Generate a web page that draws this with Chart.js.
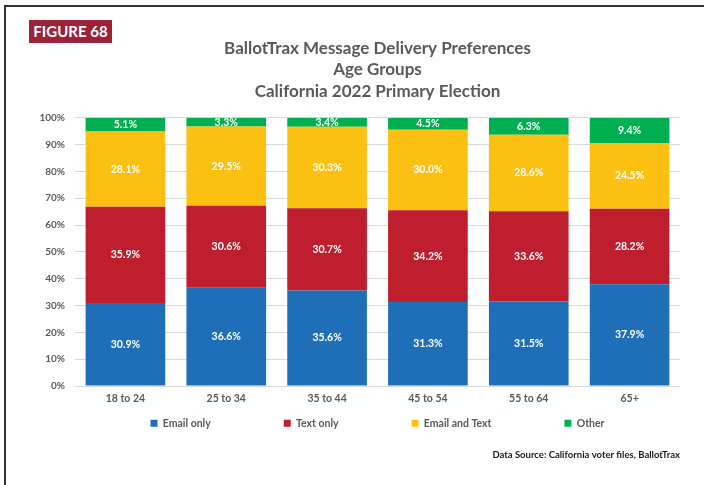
<!DOCTYPE html>
<html>
<head>
<meta charset="utf-8">
<script src="https://cdn.jsdelivr.net/npm/chart.js@4/dist/chart.umd.min.js"></script>
<style>
  html, body { margin: 0; padding: 0; background: #fff; }
  #wrap { position: relative; width: 704px; height: 485px; overflow: hidden; }
  #frame { position: absolute; left: 4px; top: 5px; width: 720px; height: 500px;
           border-top: 2px solid #333; border-left: 2px solid #333; pointer-events: none; }
  #fig { position: absolute; left: 29px; top: 20px; width: 83px; height: 23px; background: #9b2237;
         color: #fff; font: bold 15px Lato, sans-serif; line-height: 23px; text-align: center; }
  canvas { position: absolute; left: 0; top: 0; }
</style>
</head>
<body>
<div id="wrap">
  <canvas id="chart" width="704" height="485"></canvas>
  <div id="frame"></div>
  <div id="fig">FIGURE 68</div>
</div>
<script>
// age groups
const ageGroups = ['18 to 24', '25 to 34', '35 to 44', '45 to 54', '55 to 64', '65+'];

// share of voters by preferred delivery (%)
const emailOnly    = [30.9, 36.6, 35.6, 31.3, 31.5, 37.9];
const textOnly     = [35.9, 30.6, 30.7, 34.2, 33.6, 28.2];
const emailAndText = [28.1, 29.5, 30.3, 30.0, 28.6, 24.5];
const other        = [5.1, 3.3, 3.4, 4.5, 6.3, 9.4];

const titleLines = ['BallotTrax Message Delivery Preferences', 'Age Groups', 'California 2022 Primary Election'];
const sourceNote = 'Data Source: California voter files, BallotTrax';

const GRAY = '#595959';

// white value labels in the middle of each segment
const segmentLabels = {
  id: 'segmentLabels',
  afterDatasetsDraw(chart) {
    const ctx = chart.ctx;
    ctx.save();
    ctx.font = 'bold 10.5px Lato, sans-serif';
    ctx.fillStyle = '#fff';
    ctx.textAlign = 'center';
    ctx.textBaseline = 'middle';
    chart.data.datasets.forEach((ds, i) => {
      chart.getDatasetMeta(i).data.forEach((bar, j) => {
        ctx.fillText(ds.data[j].toFixed(1) + '%', bar.x, (bar.y + bar.base) / 2);
      });
    });
    ctx.restore();
  }
};

// legend spacing is wide (padding is also used vertically), so move the
// legend box so its row sits just under the axis labels
const legendShift = {
  id: 'legendShift',
  afterLayout(chart) {
    const lg = chart.legend;
    const pad = lg.options.labels.padding;
    const rowY = chart.chartArea.bottom + 38;
    lg.top = rowY - pad - 6;
    lg.bottom = rowY + 12;
    lg.height = lg.bottom - lg.top;
  }
};

new Chart(document.getElementById('chart'), {
  type: 'bar',
  data: {
    labels: ageGroups,
    datasets: [
      { label: 'Email only', data: emailOnly, backgroundColor: '#1f6fb8' },
      { label: 'Text only', data: textOnly, backgroundColor: '#be1e2d' },
      { label: 'Email and Text', data: emailAndText, backgroundColor: '#fcc013' },
      { label: 'Other', data: other, backgroundColor: '#00b050' }
    ]
  },
  options: {
    responsive: false,
    animation: false,
    datasets: { bar: { barPercentage: 0.79, categoryPercentage: 1, borderWidth: 0 } },
    layout: { padding: { left: 40, right: 24, top: 0, bottom: 0 } },
    scales: {
      x: {
        stacked: true,
        grid: { display: false, drawTicks: false },
        border: { display: false },
        ticks: { color: GRAY, font: { family: 'Lato', size: 10.5, weight: 'bold' }, padding: 6 }
      },
      y: {
        stacked: true,
        min: 0,
        max: 100,
        afterFit(scale) { scale.width = 35; },
        grid: { color: '#d9d9d9', drawTicks: false },
        border: { display: false },
        ticks: {
          stepSize: 10,
          padding: 10,
          color: GRAY,
          font: { family: 'Lato', size: 10, weight: 'bold' },
          callback: v => v + '%'
        }
      }
    },
    plugins: {
      title: {
        display: true,
        text: titleLines,
        fullSize: false,
        color: GRAY,
        font: { family: 'Lato', size: 17, weight: 'bold', lineHeight: 1.25 },
        padding: { top: 38, bottom: 16 }
      },
      subtitle: {
        display: true,
        position: 'bottom',
        align: 'end',
        fullSize: false,
        text: sourceNote,
        color: '#1a1a1a',
        font: { family: 'Lato', size: 9.5, weight: 'bold', lineHeight: 1.2 },
        padding: { top: 0, bottom: 24 }
      },
      legend: {
        position: 'bottom',
        fullSize: false,
        maxHeight: 39,
        labels: {
          color: GRAY,
          boxWidth: 7,
          boxHeight: 7,
          padding: 73,
          font: { family: 'Lato', size: 10.5, weight: 'bold' }
        }
      },
      tooltip: { enabled: false }
    }
  },
  plugins: [segmentLabels, legendShift]
});
</script>
</body>
</html>
